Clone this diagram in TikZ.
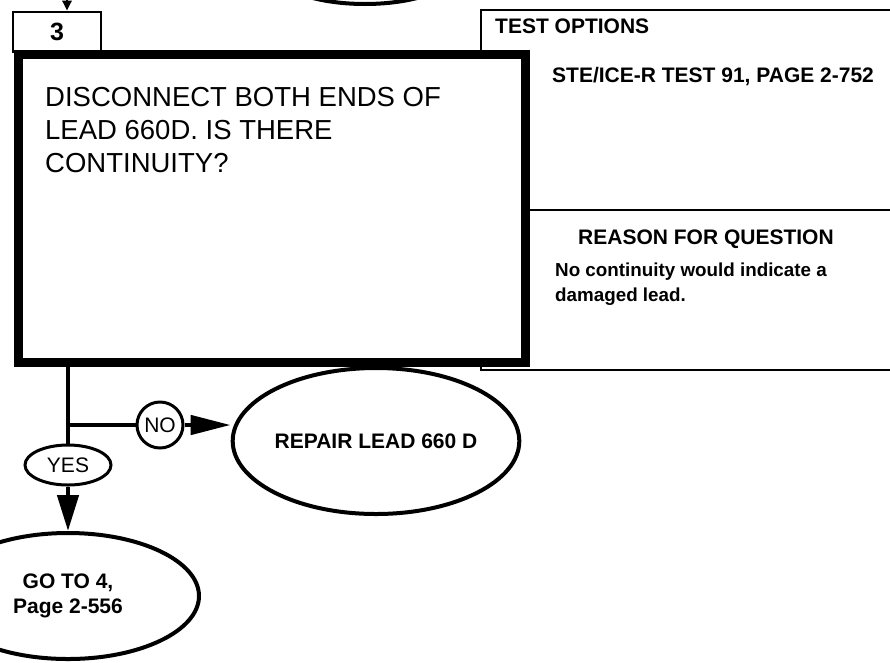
\documentclass[tikz,border=0pt]{standalone}
\usepackage{fontspec}
\setmainfont{Liberation Sans}
\usetikzlibrary{shapes.geometric,arrows.meta}
\begin{document}
\begin{tikzpicture}[x=1pt,y=-1pt,
  thinline/.style={line width=2.6pt},
  conn/.style={line width=4.5pt},
  ovalbox/.style={draw, ellipse, line width=4pt, inner sep=0pt, align=center,
    font=\fontsize{21}{25}\selectfont\bfseries},
  tag/.style={draw, line width=3pt, inner sep=0pt, font=\fontsize{21}{25}\selectfont},
  heading/.style={anchor=base west, inner sep=0pt, font=\fontsize{21}{25}\selectfont\bfseries},
  bigtip/.style={-{Triangle[length=36pt,width=21pt]}},
]
\useasboundingbox (0,0) rectangle (890,662);
\clip (0,0) rectangle (890,662);

% ellipse of the previous step (cut off at the top)
\draw[line width=4pt] (365,-31) ellipse [x radius=93, y radius=35];

% side panel with test options and reason
\draw[thinline, fill=white] (481,10) rectangle (900,370);

% step number box
\node[draw, thinline, minimum width=88pt, minimum height=40pt, inner sep=0pt,
  font=\fontsize{25}{30}\selectfont\bfseries] (num) at (57,32) {3};

% main question box
\node[draw, line width=9pt, fill=white, minimum width=507pt, minimum height=308pt,
  inner sep=0pt] (main) at (271.5,208) {};

\draw[thinline] (main.east |- 0,210) -- (900,210);

\coordinate (topin) at (67,0);
\draw[line width=2.6pt, -{Triangle[length=10pt,width=9pt]}] (topin) -- (topin |- num.north);

\node[anchor=north west, inner sep=0pt, align=left,
  font=\fontsize{27.5}{33}\selectfont] (q) at (45,87)
  {DISCONNECT BOTH ENDS OF\\LEAD 660D. IS THERE\\CONTINUITY?};

\node[heading] (topt) at (495,33) {TEST OPTIONS};
\node[heading] (ste) at (552,82.5) {STE/ICE-R TEST 91, PAGE 2-752};
\node[heading] (rq) at (578,244) {REASON FOR QUESTION};
\node[anchor=north west, inner sep=0pt, align=left,
  font=\fontsize{18.8}{25}\selectfont\bfseries] (why) at (555,263)
  {No continuity would indicate a\\damaged lead.};

% answers
\node[tag, circle, minimum size=46pt] (no) at (160,425) {NO};
\node[tag, ellipse, minimum width=86pt, minimum height=40pt] (yes) at (68,465) {YES};

\node[ovalbox, minimum width=278pt, minimum height=146pt] (repair) at (376,441) {REPAIR LEAD 660 D};
\node[ovalbox, minimum width=262pt, minimum height=126pt] (goto) at (68,596) {GO TO 4,\\Page 2-556};

\draw[conn] (yes.north |- main.south) -- (yes.north);
\draw[conn] (yes.north |- no.west) -- (no.west);
\draw[conn, -{Triangle[length=40pt,width=19pt]}] (no.east) -- (repair.west |- no.east);
\draw[conn, bigtip] (yes.south) -- (goto.north);
\end{tikzpicture}
\end{document}
